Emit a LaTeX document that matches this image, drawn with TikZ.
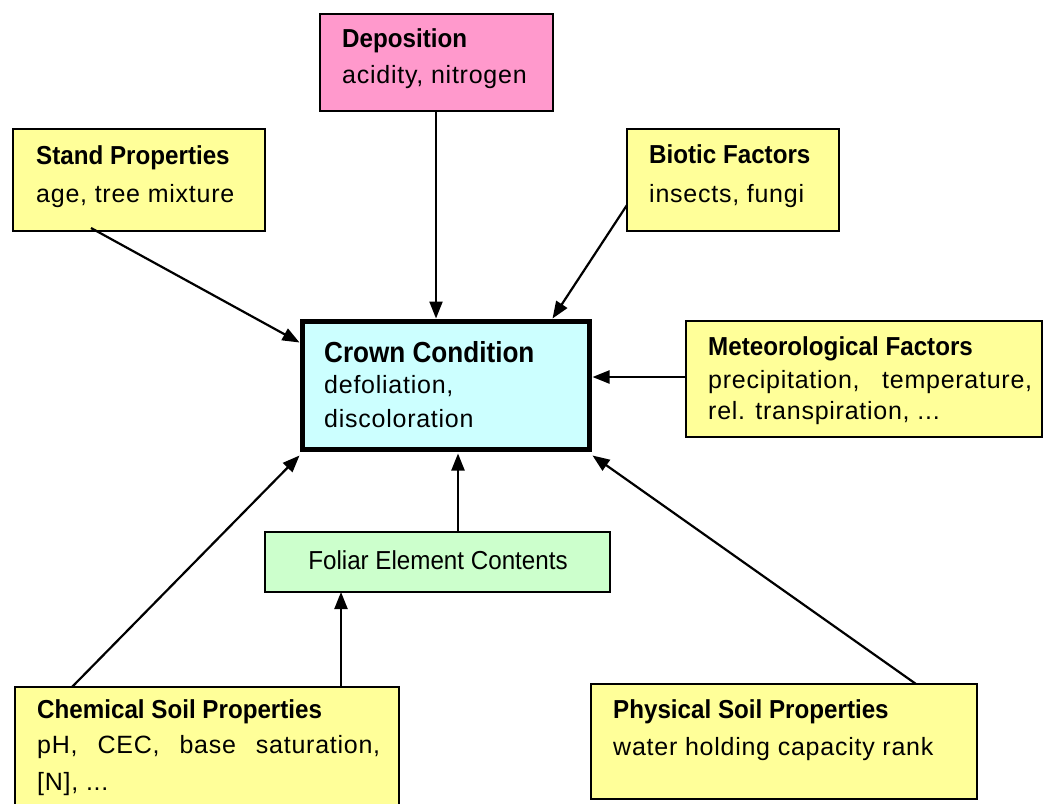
\documentclass[tikz,border=0pt]{standalone}
\usepackage{fontspec}
\setmainfont{Liberation Sans}
\newfontfamily\bodyfam{Liberation Sans}[LetterSpace=3]
\newfontfamily\titlefam{Liberation Sans}[FakeStretch=0.93]
\newfontfamily\crownfam{Liberation Sans}[FakeStretch=0.9]
\usetikzlibrary{arrows.meta,calc}
\definecolor{yel}{HTML}{FFFF99}
\definecolor{pinkbox}{HTML}{FF99CC}
\definecolor{cyanbox}{HTML}{CCFFFF}
\definecolor{greenbox}{HTML}{CCFFCC}
\newcommand\mytitle{\titlefam\bfseries\fontsize{26}{30}\selectfont}
\newcommand\mybody{\bodyfam\fontsize{25}{30}\selectfont}
\begin{document}
\begin{tikzpicture}[x=1pt,y=-1pt,
  box/.style={draw=black, line width=2pt, anchor=north west, inner sep=0pt, outer sep=0pt},
  txt/.style={anchor=base west, inner sep=0pt},
  arr/.style={line width=2.2pt, -{Triangle[length=17pt,width=13pt]}}]
\useasboundingbox[fill=white] (0,0) rectangle (1043,803);
% boxes
\node[box, fill=pinkbox, minimum width=233pt, minimum height=97pt] (dep) at (320,14) {};
\node[box, fill=yel, minimum width=252pt, minimum height=102pt] (stand) at (13,129) {};
\node[box, fill=yel, minimum width=212pt, minimum height=102pt] (bio) at (627,129) {};
\node[box, fill=yel, minimum width=356pt, minimum height=116pt] (met) at (686,321) {};
\node[box, fill=cyanbox, line width=5pt, minimum width=287pt, minimum height=128pt] (crown) at (302.5,321.5) {};
\node[box, fill=greenbox, minimum width=345pt, minimum height=60pt] (fol) at (265,532) {};
\node[box, fill=yel, minimum width=384pt, minimum height=130pt] (chem) at (15,687) {};
\node[box, fill=yel, minimum width=386pt, minimum height=115pt] (phys) at (591,684) {};
% texts
\node[txt] (dep1) at (342,47) {\mytitle Deposition};
\node[txt] (dep2) at (342,83) {\mybody acidity, nitrogen};
\node[txt] (stand1) at (36,164) {\mytitle Stand Properties};
\node[txt] (stand2) at (36,202) {\mybody age, tree mixture};
\node[txt] (bio1) at (649,163) {\mytitle Biotic Factors};
\node[txt] (bio2) at (649,202) {\mybody insects, fungi};
\node[txt] (met1) at (708,355) {\mytitle Meteorological Factors};
\node[txt] (met2) at (708,388) {\mybody\makebox[324pt][s]{precipitation, temperature,}};
\node[txt] (met3) at (708,419) {\mybody rel. transpiration, ...};
\node[txt] (crown1) at (324,362) {\crownfam\bfseries\fontsize{29}{33}\selectfont Crown Condition};
\node[txt] (crown2) at (324,393) {\mybody defoliation,};
\node[txt] (crown3) at (324,427) {\mybody discoloration};
\node[anchor=base, inner sep=0pt] (fol1) at (438,569) {\titlefam\fontsize{26}{30}\selectfont Foliar Element Contents};
\node[txt] (chem1) at (37,718) {\mytitle Chemical Soil Properties};
\node[txt] (chem2) at (37,753) {\mybody\makebox[343pt][s]{pH, CEC, base saturation,}};
\node[txt] (chem3) at (37,790) {\mybody [N], ...};
\node[txt] (phys1) at (613,718) {\mytitle Physical Soil Properties};
\node[txt] (phys2) at (613,755) {\mybody water holding capacity rank};
% connectors
\draw[arr] ($(stand.south west)+(78,-3)$) -- ($(crown.north west)+(-3,21)$);
\draw[arr] ($(dep.south west)+(116,0)$) -- ($(crown.north west)+(133.5,-3)$);
\draw[arr] ($(bio.north west)+(0,76)$) -- ($(crown.north east)+(-37,-3)$);
\draw[arr] ($(met.north west)+(0,56)$) -- ($(crown.north east)+(3,55.5)$);
\draw[arr] ($(fol.north west)+(193,0)$) -- ($(crown.south west)+(155.5,4)$);
\draw[arr] ($(chem.north west)+(57,0)$) -- ($(crown.south west)+(-3,6)$);
\draw[arr] ($(chem.north west)+(326,0)$) -- ($(fol.south west)+(76,0)$);
\draw[arr] ($(phys.north west)+(325,0)$) -- ($(crown.south east)+(3,6)$);
\end{tikzpicture}
\end{document}
